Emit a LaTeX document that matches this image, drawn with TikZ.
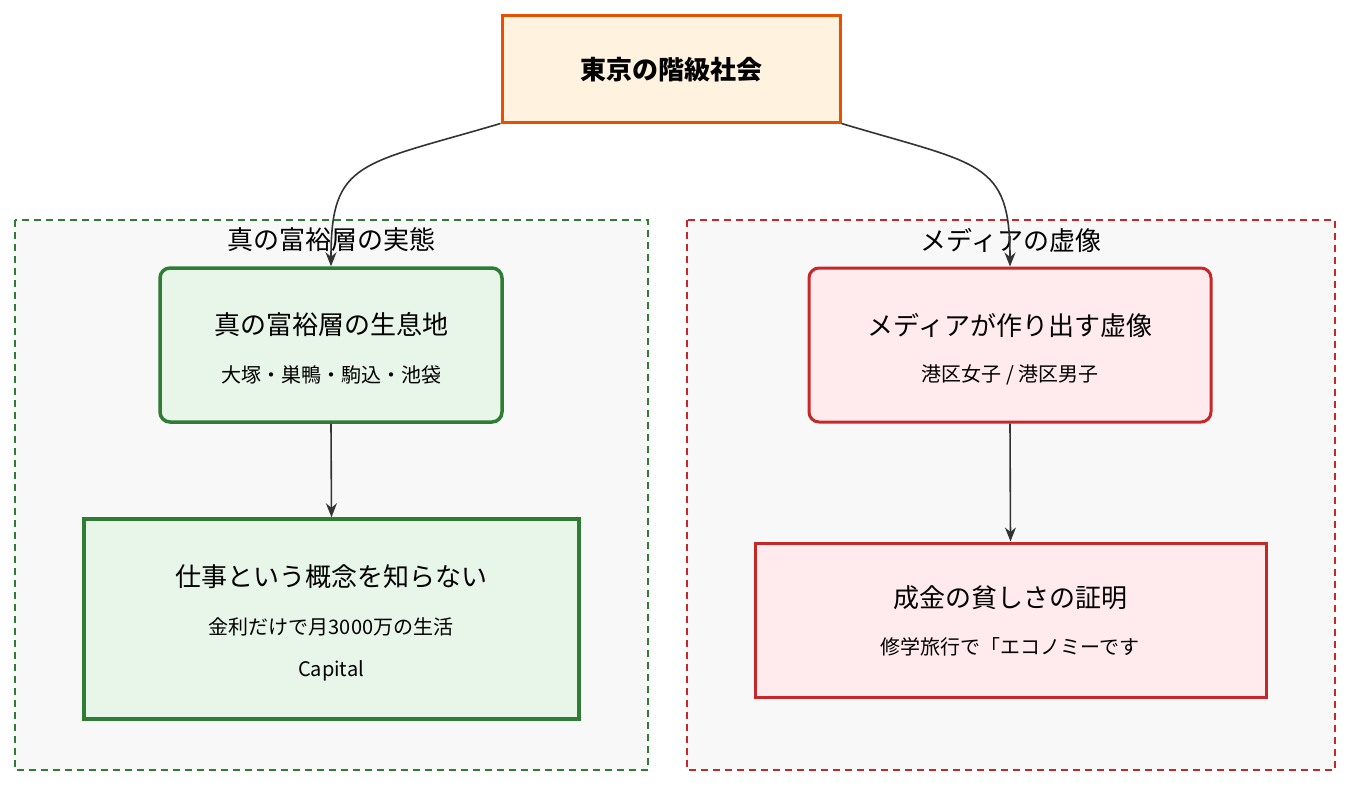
\documentclass[tikz,border=0pt]{standalone}
\usepackage{fontspec}
\setmainfont{Noto Sans CJK JP}
\usetikzlibrary{arrows.meta}
\definecolor{gfill}{HTML}{E8F5E9}\definecolor{gline}{HTML}{2E7D32}
\definecolor{rfill}{HTML}{FFEBEE}\definecolor{rline}{HTML}{C62828}
\definecolor{ofill}{HTML}{FFF3E0}\definecolor{oline}{HTML}{E65100}
\definecolor{cfill}{HTML}{F8F8F8}\definecolor{edge}{HTML}{333333}
\begin{document}
\begin{tikzpicture}[x=1pt,y=-1pt,
 cl/.style={draw,dashed,line width=2.5pt,dash pattern=on 7pt off 5pt,fill=cfill},
 box/.style={draw,line width=3.5pt,align=center,inner sep=0pt},
 big/.style={font=\fontsize{26}{30}\selectfont},
 sm/.style={font=\fontsize{20}{24}\selectfont},
 conn/.style={draw=edge,line width=1.6pt,-{Stealth[length=14pt,width=11pt]}}]
\useasboundingbox (0,0) rectangle (1350,785);
\fill[white] (0,0) rectangle (1350,785);
\draw[cl,draw=gline] (15,220) rectangle (648,770);
\draw[cl,draw=rline] (687,220) rectangle (1335,770);
\node[big] (lt) at (331,240) {真の富裕層の実態};
\node[big] (rt) at (1011,240) {メディアの虚像};
\node[box,draw=oline,fill=ofill,line width=3pt,minimum width=338pt,minimum height=107pt] (top) at (671,68.5) {};
\node[font=\fontsize{26}{30}\selectfont\bfseries] (tt) at (671,70) {東京の階級社会};
\node[box,draw=gline,fill=gfill,rounded corners=10pt,minimum width=342pt,minimum height=154pt] (a) at (331,345) {};
\node[big] (a1) at (331,325) {真の富裕層の生息地};
\node[sm] (a2) at (331,375) {大塚・巣鴨・駒込・池袋};
\node[box,draw=gline,fill=gfill,minimum width=495pt,minimum height=200pt] (b) at (331.5,619) {};
\node[big] (b1) at (331,577) {仕事という概念を知らない};
\node[sm] (b2) at (331,627) {金利だけで月3000万の生活};
\node[sm] (b3) at (331,671) {Capital};
\node[box,draw=rline,fill=rfill,rounded corners=10pt,line width=3pt,minimum width=402pt,minimum height=154pt] (c) at (1010,345) {};
\node[big] (c1) at (1010,325) {メディアが作り出す虚像};
\node[sm] (c2) at (1010,375) {港区女子 / 港区男子};
\node[box,draw=rline,fill=rfill,line width=3pt,minimum width=511pt,minimum height=154pt] (d) at (1010.5,620) {};
\node[big] (d1) at (1010,598) {成金の貧しさの証明};
\node[sm] (d2) at (1010,647) {修学旅行で「エコノミーです};
\draw[conn] (top.south west) .. controls (360,165) and (331,160) .. (a.north);
\draw[conn] (top.south east) .. controls (980,165) and (1010,160) .. (c.north);
\draw[conn] (a.south) -- (b.north);
\draw[conn] (c.south) -- (d.north);
\end{tikzpicture}
\end{document}
